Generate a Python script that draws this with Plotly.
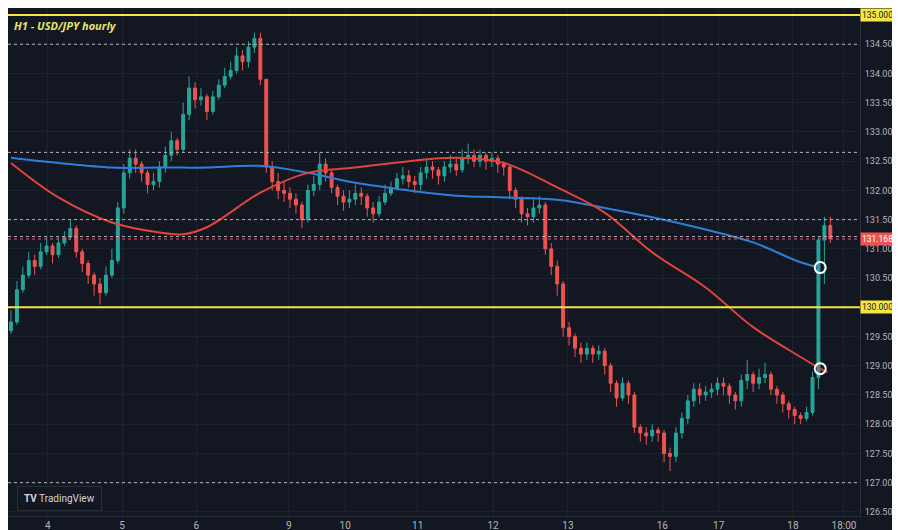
import plotly.graph_objects as go

# hourly candles (bar index)
closes = [129.75, 130.3, 130.55, 130.8, 130.7, 130.95, 131.05, 130.9, 131.1, 131.2,
          131.35, 130.95, 130.75, 130.55, 130.4, 130.25, 130.55, 130.8, 131.7, 132.3,
          132.55, 132.45, 132.3, 132.1, 132.15, 132.4, 132.6, 132.85, 132.7, 133.3,
          133.75, 133.55, 133.6, 133.35, 133.6, 133.8, 133.95, 134.05, 134.3, 134.2,
          134.45, 134.6, 133.9, 132.4, 132.15, 132.0, 131.95, 131.85, 131.75, 131.5,
          132.0, 132.1, 132.45, 132.3, 132.05, 131.9, 131.8, 131.85, 131.95, 131.9,
          131.7, 131.6, 131.8, 131.95, 132.05, 132.2, 132.25, 132.15, 132.1, 132.3,
          132.4, 132.35, 132.25, 132.4, 132.45, 132.35, 132.55, 132.6, 132.5, 132.6,
          132.5, 132.55, 132.45, 132.4, 132.0, 131.85, 131.6, 131.55, 131.7, 131.75,
          131.0, 130.7, 130.4, 129.65, 129.5, 129.3, 129.2, 129.3, 129.2, 129.25,
          129.0, 128.7, 128.45, 128.7, 128.5, 127.95, 127.85, 127.8, 127.9, 127.85,
          127.5, 127.45, 127.85, 128.1, 128.4, 128.6, 128.5, 128.55, 128.6, 128.7,
          128.65, 128.5, 128.4, 128.75, 128.85, 128.7, 128.8, 128.85, 128.6, 128.5,
          128.35, 128.25, 128.15, 128.1, 128.2, 128.8, 131.15, 131.4, 131.17]
opens = [129.6] + closes[:-1]
highs = [129.95, 130.45, 130.7, 130.95, 130.9, 131.1, 131.2, 131.1, 131.2, 131.3,
         131.5, 131.4, 131.0, 130.8, 130.6, 130.5, 130.7, 131.0, 131.8, 132.45,
         132.7, 132.7, 132.5, 132.35, 132.3, 132.5, 132.75, 133.0, 132.9, 133.5,
         133.95, 133.85, 133.75, 133.65, 133.7, 133.9, 134.1, 134.2, 134.45, 134.4,
         134.55, 134.7, 134.7, 133.9, 132.5, 132.3, 132.15, 132.05, 131.95, 131.8,
         132.1, 132.25, 132.65, 132.55, 132.35, 132.1, 132.0, 132.0, 132.1, 132.05,
         131.95, 131.8, 131.9, 132.1, 132.15, 132.3, 132.4, 132.35, 132.25, 132.4,
         132.55, 132.5, 132.4, 132.5, 132.6, 132.55, 132.7, 132.8, 132.7, 132.7,
         132.65, 132.65, 132.6, 132.5, 132.45, 132.05, 131.9, 131.7, 131.85, 131.9,
         131.8, 131.1, 130.8, 130.45, 129.75, 129.55, 129.4, 129.4, 129.35, 129.35,
         129.3, 129.05, 128.75, 128.8, 128.75, 128.55, 128.0, 127.95, 128.0, 127.95,
         127.9, 127.6, 127.95, 128.2, 128.5, 128.7, 128.7, 128.65, 128.7, 128.8,
         128.8, 128.7, 128.55, 128.85, 129.1, 128.9, 128.95, 129.05, 128.9, 128.65,
         128.55, 128.4, 128.3, 128.2, 128.3, 128.9, 131.2, 131.55, 131.55]
lows = [129.55, 129.7, 130.25, 130.5, 130.55, 130.65, 130.9, 130.75, 130.85, 131.05,
        131.15, 130.85, 130.6, 130.4, 130.2, 130.05, 130.2, 130.5, 130.75, 131.6,
        132.2, 132.3, 132.15, 131.95, 132.0, 132.05, 132.3, 132.5, 132.6, 132.65,
        133.2, 133.4, 133.45, 133.2, 133.3, 133.55, 133.75, 133.9, 134.0, 134.05,
        134.1, 134.35, 133.8, 132.3, 132.0, 131.85, 131.8, 131.7, 131.6, 131.35,
        131.45, 131.9, 132.0, 132.15, 131.95, 131.75, 131.65, 131.7, 131.75, 131.75,
        131.55, 131.45, 131.55, 131.75, 131.9, 132.0, 132.1, 132.05, 131.95, 132.0,
        132.2, 132.2, 132.1, 132.15, 132.3, 132.25, 132.3, 132.45, 132.4, 132.4,
        132.35, 132.4, 132.3, 132.25, 131.85, 131.7, 131.45, 131.4, 131.45, 131.6,
        130.9, 130.55, 130.2, 129.5, 129.35, 129.15, 129.05, 129.1, 129.05, 129.1,
        128.85, 128.55, 128.3, 128.4, 128.35, 127.85, 127.7, 127.65, 127.7, 127.7,
        127.35, 127.2, 127.35, 127.75, 128.0, 128.3, 128.35, 128.4, 128.45, 128.5,
        128.5, 128.35, 128.25, 128.3, 128.6, 128.55, 128.6, 128.7, 128.5, 128.35,
        128.2, 128.1, 128.0, 128.0, 128.05, 128.15, 128.6, 130.4, 131.1]
bar_idx = list(range(len(closes)))

# moving averages
ma_x = [0, 8, 17, 25, 29, 33, 42, 50, 58, 67, 75, 83, 92, 100, 108, 117, 125, 133, 136.3, 137.5]
ma_blue = [132.56, 132.47, 132.39, 132.39, 132.39, 132.39, 132.42, 132.30, 132.13, 132.0,
           131.91, 131.88, 131.84, 131.7, 131.54, 131.33, 131.11, 130.77, 130.68]
ma_red = [132.47, 131.88, 131.45, 131.28, 131.25, 131.37, 131.96, 132.30, 132.39, 132.5,
          132.56, 132.47, 132.05, 131.62, 130.94, 130.34, 129.66, 129.15, 128.95, 128.89]

day_pos = [6.2, 18.7, 31.2, 46.8, 56.3, 68.5, 81.2, 93.8, 109.7, 119.2, 131.7, 140.3]
day_labels = ['4', '5', '6', '9', '10', '11', '12', '13', '16', '17', '18', '18:00']

yellow_levels = [135.0, 130.0]
dotted_levels = [134.5, 132.65, 131.5, 131.21, 127.0]
last_price = 131.168
circles_x = [136.3, 136.3]
circles_y = [130.68, 128.95]

BG = '#131722'
fig = go.Figure()
fig.add_trace(go.Candlestick(
    x=bar_idx, open=opens, high=highs, low=lows, close=closes,
    increasing=dict(line=dict(color='#26a69a', width=1), fillcolor='#26a69a'),
    decreasing=dict(line=dict(color='#ef5350', width=1), fillcolor='#ef5350'),
    whiskerwidth=0, showlegend=False))
fig.add_trace(go.Scatter(x=ma_x[:len(ma_blue)], y=ma_blue, mode='lines', line=dict(color='#2d7fd8', width=2, shape='spline'),
                         showlegend=False))
fig.add_trace(go.Scatter(x=ma_x, y=ma_red, mode='lines', line=dict(color='#e0443c', width=2, shape='spline'),
                         showlegend=False))
fig.add_trace(go.Scatter(x=circles_x, y=circles_y, mode='markers',
                         marker=dict(size=11, color='rgba(0,0,0,0)', line=dict(color='white', width=2)),
                         showlegend=False))

for lv in yellow_levels:
    fig.add_hline(y=lv, line=dict(color='#f5e642', width=2))
    fig.add_annotation(x=1, xref='paper', y=lv, text='%.3f' % lv, showarrow=False, xanchor='left',
                       bgcolor='#f5e642', font=dict(color='#131722', size=8.5, family='Roboto'), borderpad=1)
for lv in dotted_levels:
    fig.add_hline(y=lv, line=dict(color='#b2b5be', width=1, dash='dot'))
fig.add_hline(y=last_price, line=dict(color='#ef5350', width=1, dash='dot'))
fig.add_annotation(x=1, xref='paper', y=last_price, text='%.3f' % last_price, showarrow=False, xanchor='left',
                   bgcolor='#ef5350', font=dict(color='white', size=8.5, family='Roboto'), borderpad=1)

fig.add_annotation(x=0.005, xref='paper', y=0.985, yref='paper', text='<b><i>H1 - USD/JPY hourly</i></b>',
                   showarrow=False, xanchor='left', yanchor='top',
                   font=dict(color='#e8e36a', size=11, family='Noto Sans'))
fig.add_annotation(x=0.01, xref='paper', y=0.035, yref='paper', text='<b>TV</b> TradingView',
                   showarrow=False, xanchor='left', yanchor='middle', bgcolor=BG,
                   bordercolor='#2a2e39', borderwidth=1, borderpad=6,
                   font=dict(color='#d1d4dc', size=10, family='Roboto'))

fig.update_layout(
    width=900, height=530, paper_bgcolor=BG, plot_bgcolor=BG,
    margin=dict(l=0, r=48, t=0, b=22, autoexpand=False),
    xaxis=dict(range=[-0.5, 143], tickvals=day_pos, ticktext=day_labels, showgrid=True,
               gridcolor='#1e222d', zeroline=False, rangeslider=dict(visible=False),
               tickfont=dict(color='#b2b5be', size=10, family='Roboto'), showline=True, linecolor='#2a2e39'),
    yaxis=dict(range=[126.43, 135.12], side='right', dtick=0.5, tickformat='.3f', showgrid=True,
               gridcolor='#1e222d', zeroline=False, tickfont=dict(color='#b2b5be', size=9, family='Roboto'),
               showline=True, linecolor='#2a2e39', ticklabelstandoff=2, automargin=False),
)

fig.write_html("out.html")
